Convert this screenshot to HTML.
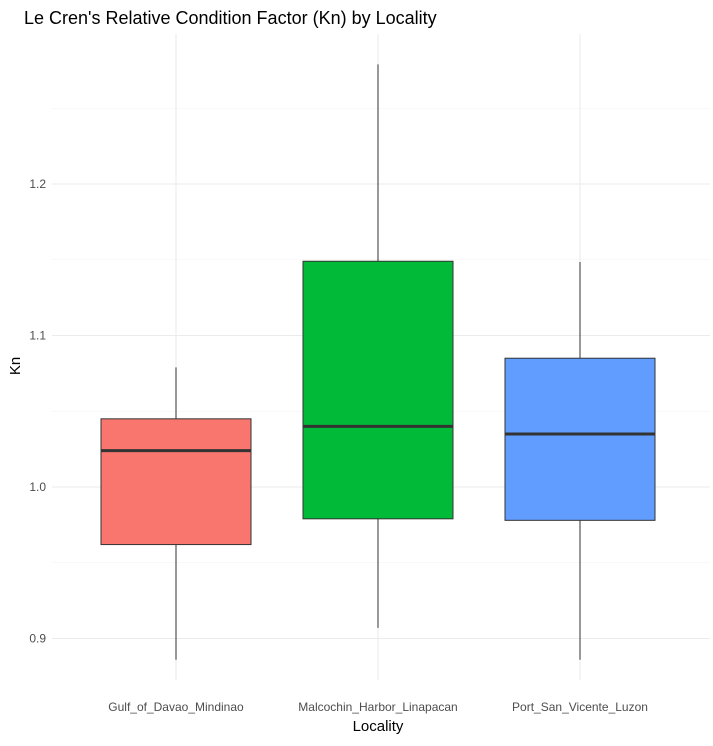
<!DOCTYPE html>
<html><head><meta charset="utf-8"><style>
body{margin:0;background:#fff;font-family:"Liberation Sans",Arial,sans-serif}
</style></head><body>
<svg id="chart" width="713" height="741" xmlns="http://www.w3.org/2000/svg">
<rect width="713" height="741" fill="#fff"/>
<text x="24" y="24" font-size="18" fill="#000">Le Cren's Relative Condition Factor (Kn) by Locality</text>
<g id="grid"></g><g id="boxes"></g><g id="axes"></g>
<text x="378" y="731" font-size="15" text-anchor="middle" fill="#000">Locality</text>
<text transform="translate(20,366) rotate(-90)" font-size="15" text-anchor="middle" fill="#000">Kn</text>
</svg>
<script>
const categories=["Gulf_of_Davao_Mindinao","Malcochin_Harbor_Linapacan","Port_San_Vicente_Luzon"];
const whiskerLow=[0.886,0.907,0.886];
const q1=[0.962,0.979,0.978];
const median=[1.024,1.040,1.035];
const q3=[1.045,1.149,1.085];
const whiskerHigh=[1.079,1.279,1.1485];
const colors=["#F8766D","#00BA38","#619CFF"];
const yTicks=[0.9,1.0,1.1,1.2];
const yTickLabels=["0.9","1.0","1.1","1.2"];
const yMinor=[0.95,1.05,1.15,1.25];
const NS="http://www.w3.org/2000/svg";
function y(v){return 487-(v-1.0)*1515;}
function x(i){return 176+i*202;}
const L=52,R=710,T=34,B=680;
function mk(tag,attrs,parent){const e=document.createElementNS(NS,tag);for(const k in attrs)e.setAttribute(k,attrs[k]);parent.appendChild(e);return e;}
const g=document.getElementById('grid'),bx=document.getElementById('boxes'),ax=document.getElementById('axes');
yMinor.forEach(v=>{const e=mk('line',{x1:L,x2:R,y1:y(v),y2:y(v),stroke:'#f0f0f0','stroke-width':0.6},g);

});
yTicks.forEach((v,i)=>{const e=mk('line',{x1:L,x2:R,y1:y(v),y2:y(v),stroke:'#ebebeb','stroke-width':1.1},g);


const t=mk('text',{x:46,y:y(v)+4,'font-size':12,'text-anchor':'end',fill:'#4d4d4d'},ax);t.textContent=yTickLabels[i];

});
categories.forEach((c,i)=>{const e=mk('line',{x1:x(i),x2:x(i),y1:T,y2:B,stroke:'#ebebeb','stroke-width':1.1},g);


const t=mk('text',{x:x(i),y:711,'font-size':12,'text-anchor':'middle',fill:'#4d4d4d'},ax);t.textContent=c;


const w=mk('line',{x1:x(i),x2:x(i),y1:y(whiskerHigh[i]),y2:y(whiskerLow[i]),stroke:'#333','stroke-width':1},bx);


const r=mk('rect',{x:x(i)-75,width:150,y:y(q3[i]),height:y(q1[i])-y(q3[i]),fill:colors[i],stroke:'#333','stroke-width':1},bx);


const m=mk('line',{x1:x(i)-75,x2:x(i)+75,y1:y(median[i]),y2:y(median[i]),stroke:'#333','stroke-width':3},bx);

});
</script>
</body></html>
